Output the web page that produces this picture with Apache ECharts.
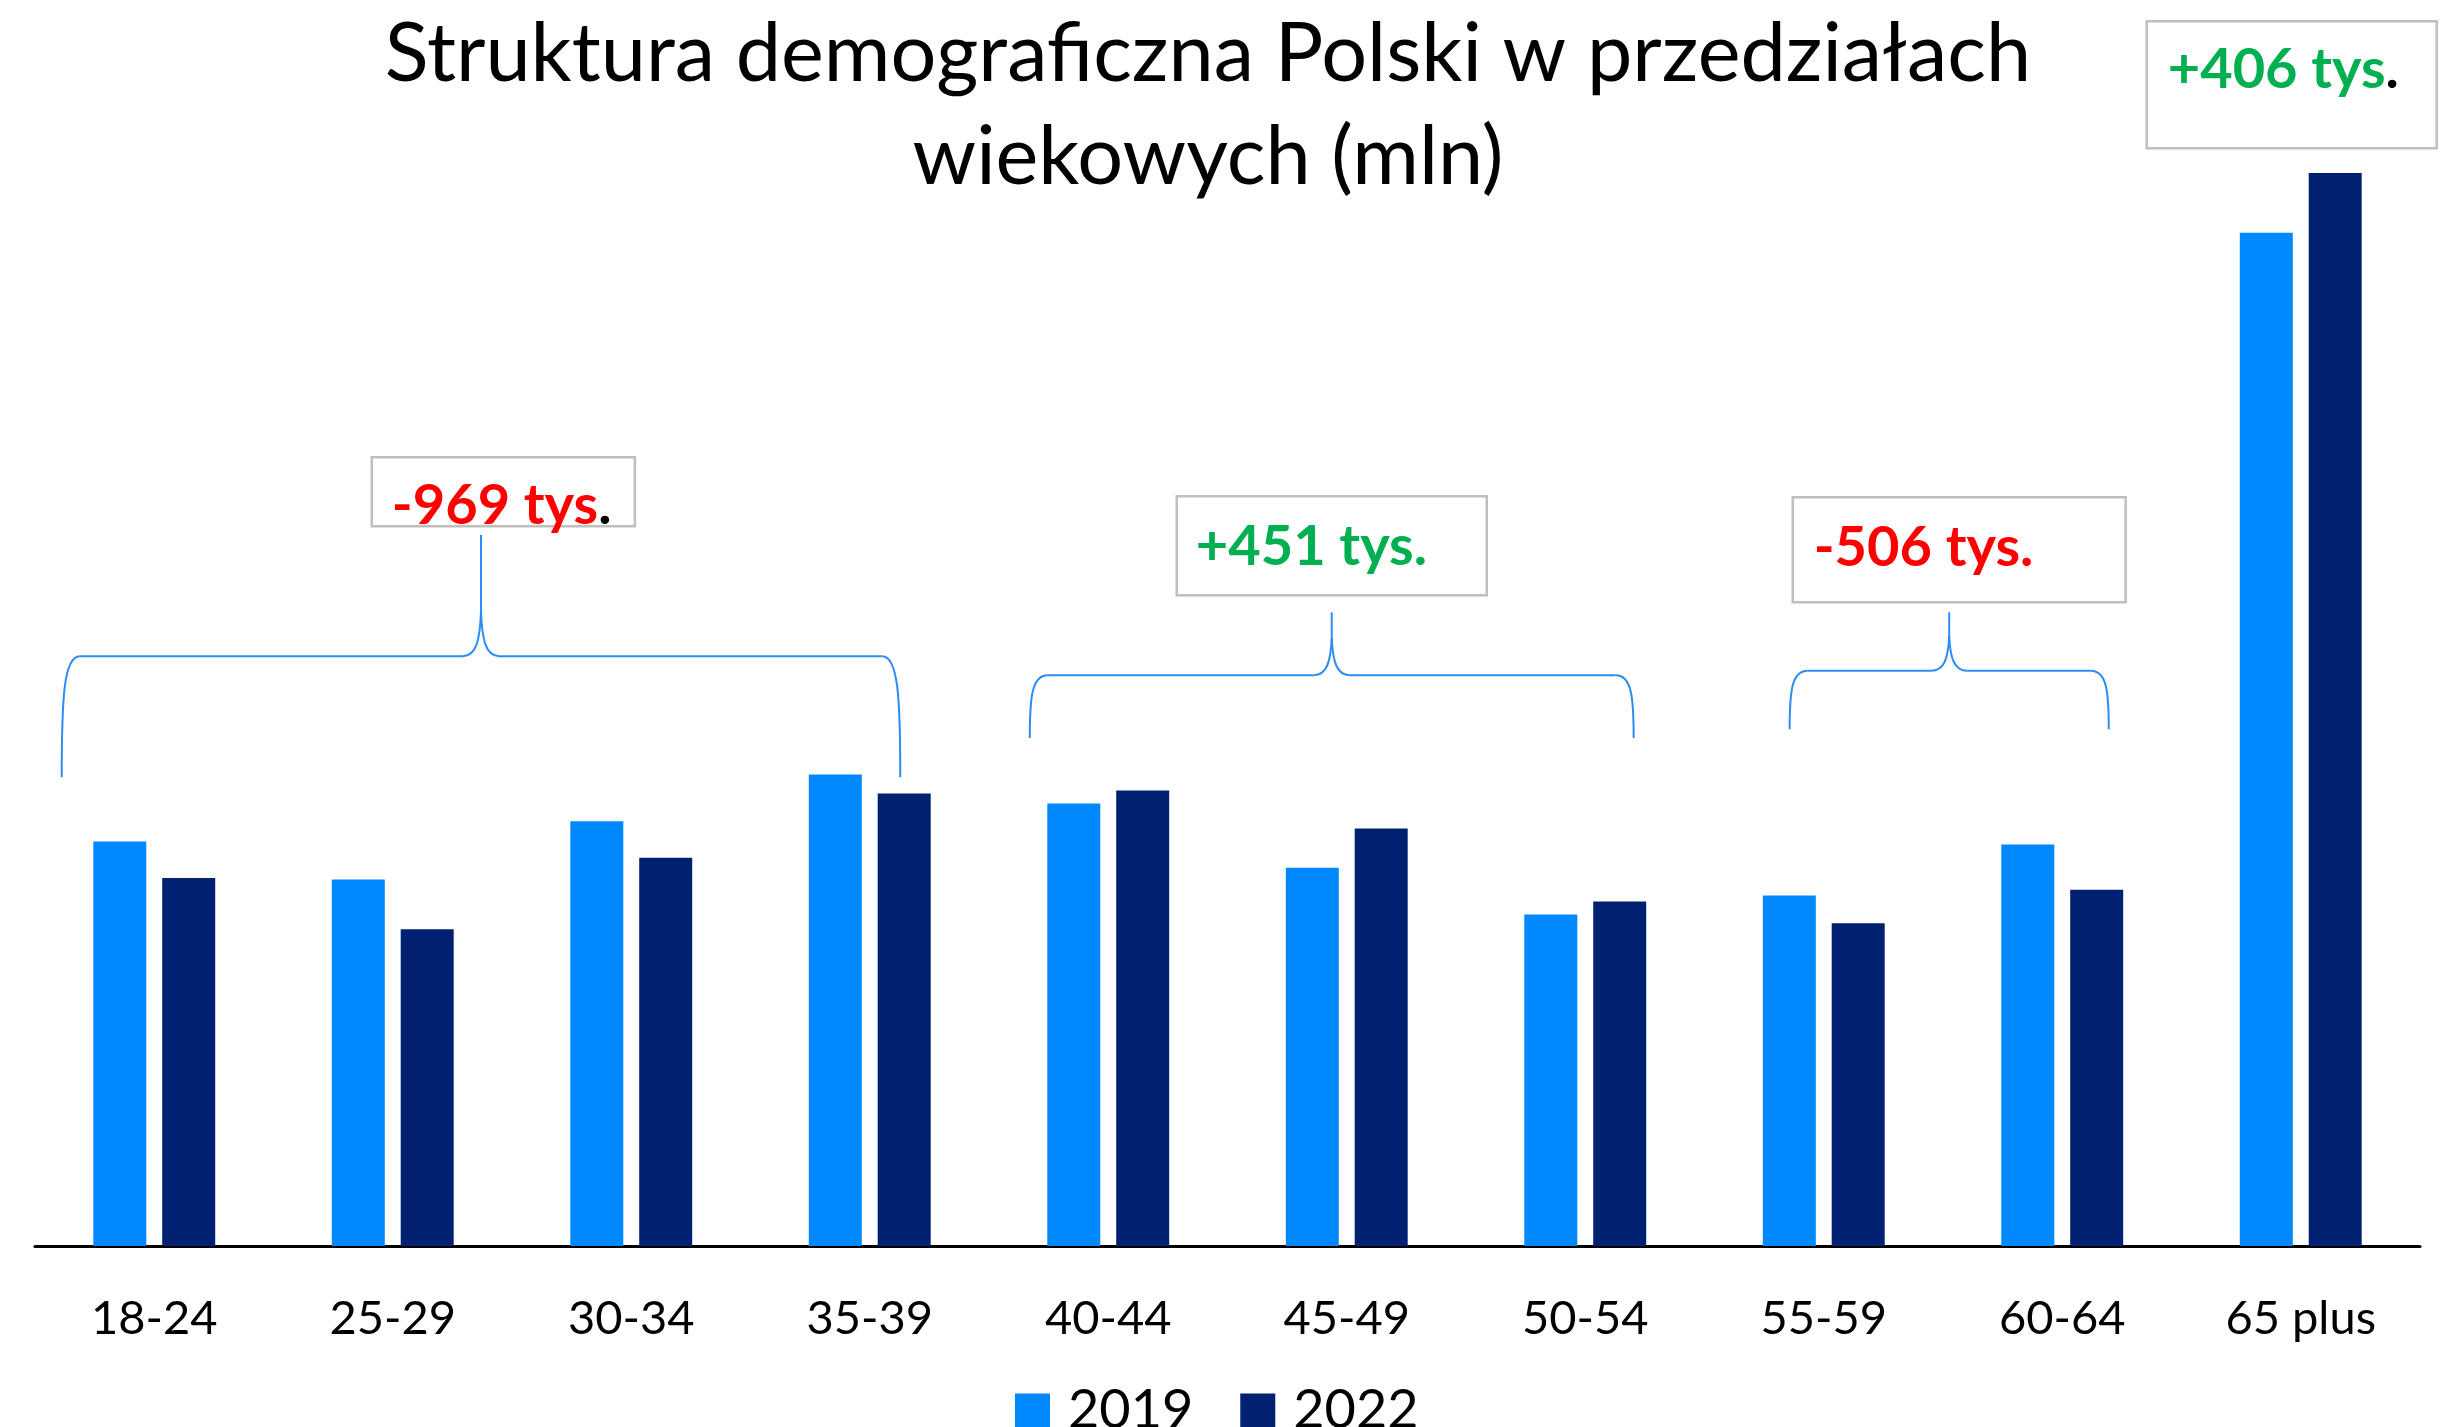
<!DOCTYPE html>
<html>
<head>
<meta charset="utf-8">
<script src="https://cdn.jsdelivr.net/npm/echarts@6/dist/echarts.min.js"></script>
<style>
html,body{margin:0;padding:0;background:#ffffff;}
#chart{width:2460px;height:1427px;}
</style>
</head>
<body>
<div id="chart"></div>
<script>
// ---- data (millions of people) ----
const categories = ['18-24', '25-29', '30-34', '35-39', '40-44', '45-49', '50-54', '55-59', '60-64', '65 plus'];
const seriesNames = ['2019', '2022'];
const values2019 = [2.77, 2.51, 2.91, 3.23, 3.03, 2.59, 2.27, 2.40, 2.75, 6.94];
const values2022 = [2.52, 2.17, 2.66, 3.10, 3.12, 2.86, 2.36, 2.21, 2.44, 7.35];
const titleLines = ['Struktura demograficzna Polski w przedziałach', 'wiekowych (mln)'];
const changeLabels = ['-969 tys', '+451 tys', '-506 tys', '+406 tys'];
const changeBlackDot = [true, false, false, true];

// ---- annotation layout (fractional category index, value units) ----
const braces = [
  { l: -0.388, r: 3.128, yEnd: 3.21, yMid: 4.04, yTip: 4.87 },
  { l: 3.671, r: 6.203, yEnd: 3.48, yMid: 3.91, yTip: 4.34 },
  { l: 6.857, r: 8.195, yEnd: 3.54, yMid: 3.94, yTip: 4.34 }
];
const boxes = [
  { x1: 0.912, x2: 2.015, yTop: 5.402, yBot: 4.929, tx: 0.996, tBase: 4.929 },
  { x1: 4.287, x2: 5.587, yTop: 5.135, yBot: 4.457, tx: 4.367, tBase: 4.649 },
  { x1: 6.870, x2: 8.266, yTop: 5.128, yBot: 4.409, tx: 6.958, tBase: 4.642 },
  { x1: 8.354, x2: 9.570, yTop: 8.388, yBot: 7.518, tx: 8.442, tBase: 7.916 }
];

const COLOR_2019 = '#0089FF';
const COLOR_2022 = '#002171';
const FONT = 'Lato';

const chart = echarts.init(document.getElementById('chart'), null, { renderer: 'canvas' });

const option = {
  animation: false,
  backgroundColor: '#ffffff',
  grid: { left: 35, right: 40, top: 78, bottom: 181, containLabel: false },
  legend: {
    data: seriesNames,
    left: 1015,
    top: 1384,
    padding: 0,
    itemWidth: 35,
    itemHeight: 35,
    itemGap: 47,
    icon: 'rect',
    textStyle: { fontSize: 54, fontFamily: FONT, color: '#000', padding: [0, 0, 0, 13] }
  },
  xAxis: {
    type: 'category',
    data: categories,
    axisLine: { lineStyle: { color: '#000', width: 3 } },
    axisTick: { show: false },
    axisLabel: { fontSize: 47, fontFamily: FONT, color: '#000', margin: 49 }
  },
  yAxis: {
    type: 'value',
    min: 0,
    max: 8,
    show: false,
    splitLine: { show: false }
  },
  series: [
    { name: seriesNames[0], type: 'bar', data: values2019, barWidth: 53, barGap: '30%', itemStyle: { color: COLOR_2019 } },
    { name: seriesNames[1], type: 'bar', data: values2022, barWidth: 53, barGap: '30%', itemStyle: { color: COLOR_2022 } }
  ]
};
chart.setOption(option);

// helpers mapping (fractional category, value) -> pixels through the chart's own axes
function px(f, v) {
  const c0 = chart.convertToPixel({ xAxisIndex: 0 }, categories[0]);
  const c1 = chart.convertToPixel({ xAxisIndex: 0 }, categories[1]);
  const x = c0 + f * (c1 - c0);
  const y = chart.convertToPixel({ yAxisIndex: 0 }, v);
  return [x, y];
}

const graphics = [];
// title
const titleFont = 81;
[[titleLines[0], 85], [titleLines[1], 188]].forEach(([t, base]) => {
  graphics.push({
    type: 'text', x: 1208, y: base - 0.37 * titleFont, silent: true,
    style: { text: t, fontSize: titleFont, fontFamily: FONT, fontWeight: 'normal', fill: '#000',
      align: 'center', verticalAlign: 'middle', textAlign: 'center', textVerticalAlign: 'middle' }
  });
});

const BRACE_COLOR = '#2A8DF2';
const braceStyle = { stroke: BRACE_COLOR, lineWidth: 2, fill: 'none' };
braces.forEach(b => {
  const [xl, yE] = px(b.l, b.yEnd);
  const [xr] = px(b.r, b.yEnd);
  const yH = px(0, b.yMid)[1];
  const yT = px(0, b.yTip)[1];
  const xm = (xl + xr) / 2;
  const r = 18;
  const endSpan = yE - yH;
  const stem = Math.min(45, (yH - yT) * 0.6);
  const seg = [
    { type: 'bezierCurve', shape: { x1: xl, y1: yE, cpx1: xl, cpy1: yH + endSpan * 0.35, cpx2: xl + 2, cpy2: yH, x2: xl + r, y2: yH } },
    { type: 'line', shape: { x1: xl + r, y1: yH, x2: xm - r, y2: yH } },
    { type: 'bezierCurve', shape: { x1: xm - r, y1: yH, cpx1: xm - 5, cpy1: yH, cpx2: xm - 1, cpy2: yH - stem * 0.35, x2: xm, y2: yH - stem } },
    { type: 'line', shape: { x1: xm, y1: yH - stem, x2: xm, y2: yT } },
    { type: 'bezierCurve', shape: { x1: xm + r, y1: yH, cpx1: xm + 5, cpy1: yH, cpx2: xm + 1, cpy2: yH - stem * 0.35, x2: xm, y2: yH - stem } },
    { type: 'line', shape: { x1: xm + r, y1: yH, x2: xr - r, y2: yH } },
    { type: 'bezierCurve', shape: { x1: xr, y1: yE, cpx1: xr, cpy1: yH + endSpan * 0.35, cpx2: xr - 2, cpy2: yH, x2: xr - r, y2: yH } }
  ];
  seg.forEach(s => { s.silent = true; s.style = Object.assign({}, braceStyle); graphics.push(s); });
});

const annFont = 56;
boxes.forEach((bx, i) => {
  const [x1, y1] = px(bx.x1, bx.yTop);
  const [x2, y2] = px(bx.x2, bx.yBot);
  graphics.push({
    type: 'rect', silent: true,
    shape: { x: x1, y: y1, width: x2 - x1, height: y2 - y1 },
    style: { fill: '#ffffff', stroke: '#BFBFBF', lineWidth: 2.5 }
  });
  const label = changeLabels[i];
  const col = label.charAt(0) === '-' ? '#FF0000' : '#00B050';
  const [tx, tb] = px(bx.tx, bx.tBase);
  const base = { fontSize: annFont, fontFamily: FONT, fontWeight: 'bold' };
  graphics.push({
    type: 'text', silent: true, x: tx, y: tb - 0.37 * annFont,
    style: {
      text: '{c|' + label + '}{d|.}',
      align: 'left', verticalAlign: 'middle', textAlign: 'left', textVerticalAlign: 'middle',
      rich: {
        c: Object.assign({ fill: col }, base),
        d: Object.assign({ fill: changeBlackDot[i] ? '#000000' : col }, base)
      }
    }
  });
});

chart.setOption({ graphic: { elements: graphics } });
</script>
</body>
</html>
